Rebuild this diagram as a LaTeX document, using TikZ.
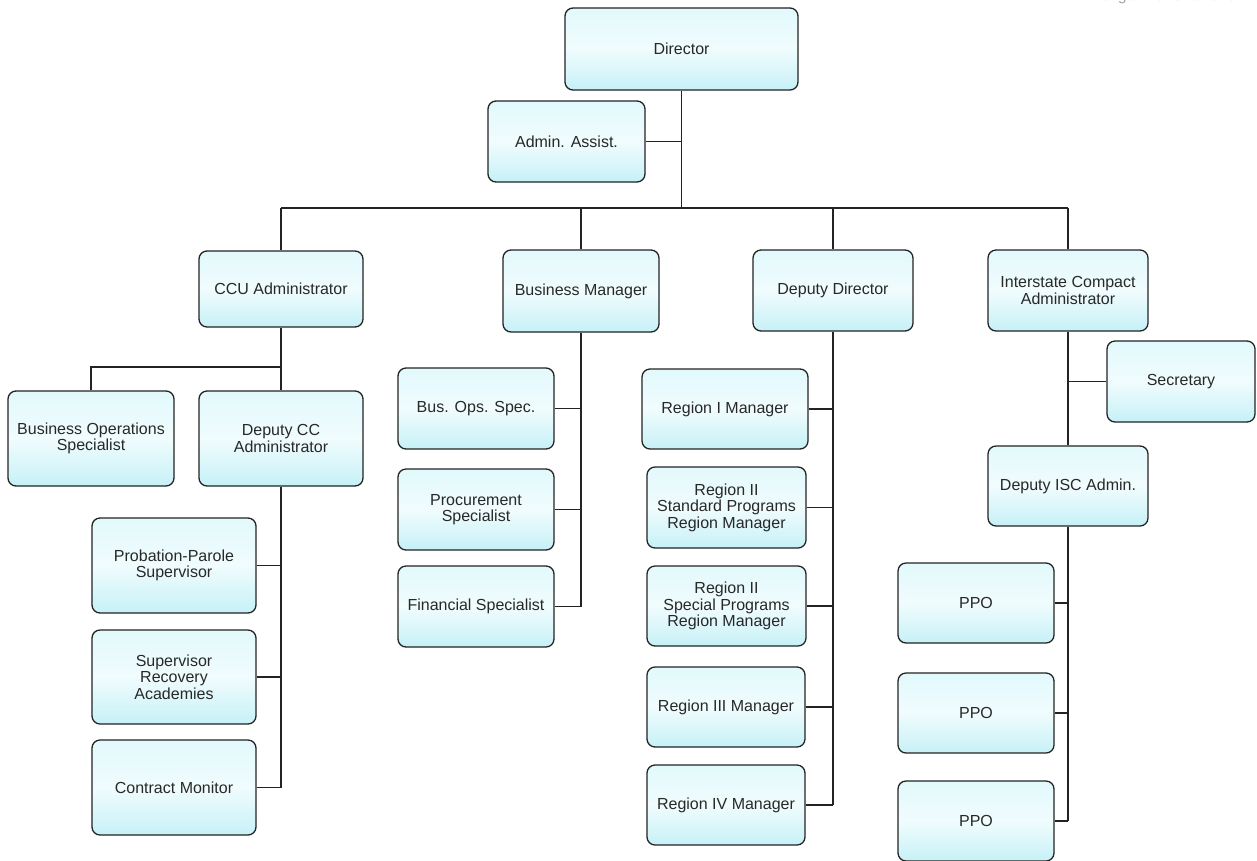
\documentclass[tikz,border=0pt]{standalone}
\usepackage{fontspec}
\setmainfont{Liberation Sans}
\definecolor{boxtop}{RGB}{226,249,252}
\definecolor{boxbot}{RGB}{198,241,247}
\definecolor{linec}{RGB}{35,35,35}
\definecolor{textc}{RGB}{40,40,40}
\tikzset{
  org/.style={draw=linec, line width=1.3pt, rounded corners=8pt,
    top color=boxtop, bottom color=boxbot, middle color=white!50!boxtop,
    align=center, text=textc, inner sep=2pt,
    font=\fontsize{16}{16.5}\selectfont},
  conn/.style={draw=linec, line width=1.7pt}
}
\newcommand{\bx}[6]{\node[org, minimum width=#4pt, minimum height=#5pt] (#1) at (#2,#3) {#6};}
\begin{document}
\begin{tikzpicture}[x=1pt,y=-1pt]
\useasboundingbox (0,0) rectangle (1257,860);
\clip (0,0) rectangle (1257,860);
\fill[white] (0,0) rectangle (1257,860);
% clipped title
\node[anchor=south west, text=black!35, font=\fontsize{16}{18}\selectfont, inner sep=0pt] (title) at (1100,4) {Organizational Chart};
% boxes
\bx{dir}{681.5}{49}{233}{82}{Director}
\bx{aa}{566.5}{141.5}{157}{81}{Admin. Assist.}
\bx{ccu}{281}{289}{164}{76}{CCU Administrator}
\bx{bm}{581}{291}{156}{82}{Business Manager}
\bx{dd}{833}{290.5}{160}{81}{Deputy Director}
\bx{isc}{1068}{290.5}{160}{81}{Interstate Compact\\Administrator}
\bx{bos}{91}{438.5}{166}{95}{Business Operations\\Specialist}
\bx{dcc}{281}{438.5}{164}{95}{Deputy CC\\Administrator}
\bx{pps}{174}{565.5}{164}{95}{Probation-Parole\\Supervisor}
\bx{sra}{174}{677}{164}{94}{Supervisor\\Recovery\\Academies}
\bx{cm}{174}{787.5}{164}{95}{Contract Monitor}
\bx{bos2}{476}{408.5}{156}{81}{Bus. Ops. Spec.}
\bx{ps}{476}{509.5}{156}{81}{Procurement\\Specialist}
\bx{fs}{476}{606.5}{156}{81}{Financial Specialist}
\bx{r1}{725}{409}{166}{80}{Region I Manager}
\bx{r2a}{726.5}{507.5}{159}{81}{Region II\\Standard Programs\\Region Manager}
\bx{r2b}{726.5}{606}{159}{80}{Region II\\Special Programs\\Region Manager}
\bx{r3}{726}{707}{158}{80}{Region III Manager}
\bx{r4}{726}{805}{158}{80}{Region IV Manager}
\bx{sec}{1181}{381.5}{148}{81}{Secretary}
\bx{disc}{1068}{486}{160}{80}{Deputy ISC Admin.}
\bx{ppo1}{976}{603}{156}{80}{PPO}
\bx{ppo2}{976}{713}{156}{80}{PPO}
\bx{ppo3}{976}{821}{156}{80}{PPO}
% connectors
\coordinate (busM) at (681.5,208);
\coordinate (ccuj) at (281,367);
\draw[conn] (dir.south) -- (busM);
\draw[conn] (aa.east) -- (aa.east -| dir.south);
\draw[conn] (ccu.north |- busM) -- (isc.north |- busM);
\draw[conn] (ccu.north |- busM) -- (ccu.north);
\draw[conn] (bm.north |- busM) -- (bm.north);
\draw[conn] (dd.north |- busM) -- (dd.north);
\draw[conn] (isc.north |- busM) -- (isc.north);
% CCU
\draw[conn] (ccu.south) -- (dcc.north);
\draw[conn] (ccuj) -| (bos.north);
\draw[conn] (dcc.south) -- (dcc.south |- cm.east);
\draw[conn] (pps.east) -- (pps.east -| dcc.south);
\draw[conn] (sra.east) -- (sra.east -| dcc.south);
\draw[conn] (cm.east) -- (cm.east -| dcc.south);
% Business Manager
\draw[conn] (bm.south) -- (bm.south |- fs.east);
\draw[conn] (bos2.east) -- (bos2.east -| bm.south);
\draw[conn] (ps.east) -- (ps.east -| bm.south);
\draw[conn] (fs.east) -- (fs.east -| bm.south);
% Deputy Director
\draw[conn] (dd.south) -- (dd.south |- r4.east);
\draw[conn] (r1.east) -- (r1.east -| dd.south);
\draw[conn] (r2a.east) -- (r2a.east -| dd.south);
\draw[conn] (r2b.east) -- (r2b.east -| dd.south);
\draw[conn] (r3.east) -- (r3.east -| dd.south);
\draw[conn] (r4.east) -- (r4.east -| dd.south);
% Interstate
\draw[conn] (isc.south) -- (disc.north);
\draw[conn] (sec.west) -- (sec.west -| isc.south);
\draw[conn] (disc.south) -- (disc.south |- ppo3.east);
\draw[conn] (ppo1.east) -- (ppo1.east -| disc.south);
\draw[conn] (ppo2.east) -- (ppo2.east -| disc.south);
\draw[conn] (ppo3.east) -- (ppo3.east -| disc.south);
\end{tikzpicture}
\end{document}
